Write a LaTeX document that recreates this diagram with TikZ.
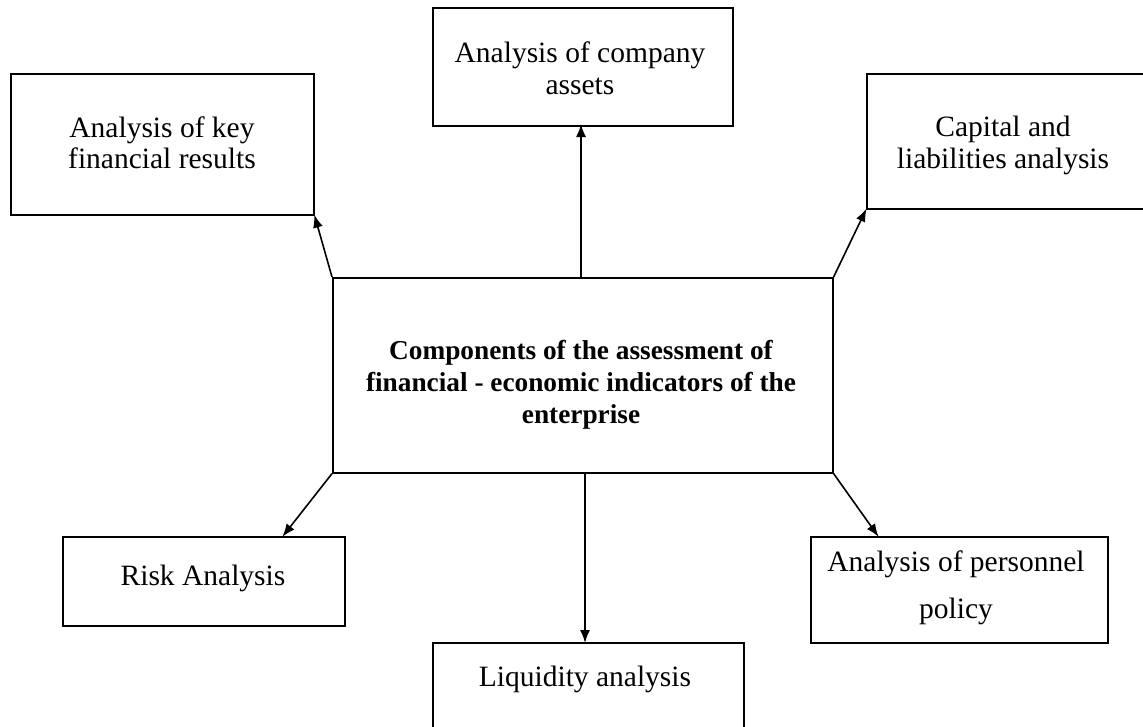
\documentclass[tikz,border=0pt]{standalone}
\usepackage{fontspec}
\setmainfont{Liberation Serif}
\usetikzlibrary{arrows.meta,calc}

\tikzset{
  box/.style={draw, line width=1.6pt, inner sep=0pt, anchor=north west},
  txt/.style={font=\fontsize{29.5}{32}\selectfont, align=center, inner sep=0pt, anchor=base},
  hubtxt/.style={font=\fontsize{27.3}{32}\selectfont\bfseries, align=center, inner sep=0pt, anchor=base},
  link/.style={line width=1.6pt, -{Latex[length=13pt,width=10pt]}, shorten >=-1pt}
}

\begin{document}
\begin{tikzpicture}[x=1pt, y=-1pt]
  \useasboundingbox (0,0) rectangle (1143,726);
  \clip (0,0) rectangle (1143,726);

  % central box
  \node[box, minimum width=500pt, minimum height=195pt] (hub) at (332,277) {};
  \node[hubtxt] (hubA) at (581,359) {Components of the assessment of};
  \node[hubtxt] (hubB) at (581,391) {financial - economic indicators of the};
  \node[hubtxt] (hubC) at (581,423) {enterprise};

  % upper boxes
  \node[box, minimum width=303pt, minimum height=141pt] (res) at (10,73) {};
  \node[txt] (resA) at (162,137) {Analysis of key};
  \node[txt] (resB) at (162,168) {financial results};

  \node[box, minimum width=300pt, minimum height=118pt] (ast) at (432,7) {};
  \node[txt] (astA) at (580,62) {Analysis of company};
  \node[txt] (astB) at (580,94) {assets};

  \node[box, minimum width=300pt, minimum height=135pt] (cap) at (866,73) {};
  \node[txt] (capA) at (1003,136) {Capital and};
  \node[txt] (capB) at (1003,168) {liabilities analysis};

  % lower boxes
  \node[box, minimum width=282pt, minimum height=89pt] (risk) at (62,536) {};
  \node[txt] (riskA) at (203,585) {Risk Analysis};

  \node[box, minimum width=311pt, minimum height=120pt] (liq) at (432,642) {};
  \node[txt] (liqA) at (585,686) {Liquidity analysis};

  \node[box, minimum width=297pt, minimum height=106pt] (pers) at (810,536) {};
  \node[txt] (persA) at (956,571) {Analysis of personnel};
  \node[txt] (persB) at (956,618) {policy};

  % connectors
  \coordinate (hubT) at (581,277);
  \coordinate (astB0) at (581,125);
  \coordinate (hubD) at (585,472);
  \coordinate (liqT) at (585,642);
  \coordinate (riskT) at (283,536);
  \coordinate (persT) at (878,536);

  \draw[link] (hub.north west) -- (res.south east);
  \draw[link] (hubT) -- (astB0);
  \draw[link] (hub.north east) -- (cap.south west);
  \draw[link] (hub.south west) -- (riskT);
  \draw[link] (hubD) -- (liqT);
  \draw[link] (hub.south east) -- (persT);
\end{tikzpicture}
\end{document}
